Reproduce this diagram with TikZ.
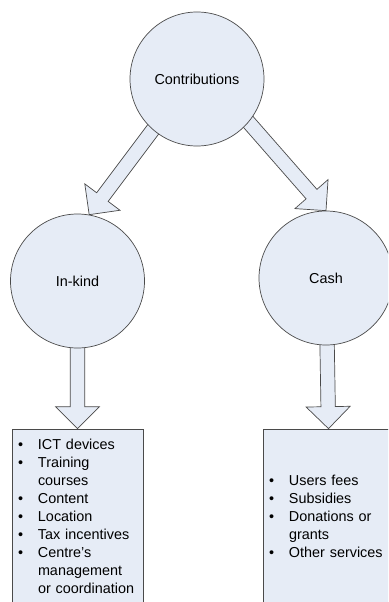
\documentclass[tikz,border=0pt]{standalone}
\usepackage{fontspec}
\setmainfont{Liberation Sans}
\usetikzlibrary{calc}
\definecolor{fillc}{HTML}{E6ECF6}
\definecolor{linec}{HTML}{4A4A4A}
\pgfdeclarelayer{bg}
\pgfsetlayers{bg,main}
\tikzset{
  circ/.style={circle, draw=linec, fill=fillc, line width=0.7pt, minimum size=134pt, inner sep=0pt},
  listbox/.style={rectangle, draw=linec, fill=fillc, line width=0.7pt, minimum width=131pt,
    minimum height=178pt, inner xsep=6pt, inner ysep=0pt, text width=119pt, align=left},
  blockarrowstyle/.style={draw=linec, fill=fillc, line width=0.7pt, line join=miter},
}
\newcommand\blockarrow[2]{%
  \coordinate (ba-s) at #1;
  \coordinate (ba-t) at #2;
  \coordinate (ba-h) at ($(ba-t)!22pt!(ba-s)$);
  \draw[blockarrowstyle]
    ($(ba-s)!7.2pt!90:(ba-t)$) -- ($(ba-h)!7.2pt!90:(ba-t)$) -- ($(ba-h)!22pt!90:(ba-t)$)
    -- (ba-t) -- ($(ba-h)!22pt!-90:(ba-t)$) -- ($(ba-h)!7.2pt!-90:(ba-t)$)
    -- ($(ba-s)!7.2pt!-90:(ba-t)$) -- cycle;
}
\newcommand\blt{\textbullet}
\begin{document}
\begin{tikzpicture}[x=1pt, y=-1pt, font=\fontsize{14.4}{18}\selectfont]
  \clip (0,0) rectangle (388,602);
  \node[circ] (contrib) at (197,79) {Contributions};
  \node[circ] (inkind) at (77.5,281) {In-kind};
  \node[circ] (cash) at (326,278) {Cash};
  \node[listbox] (kindbox) at (77.5,518) {%
    \begin{tabular}{@{}p{20pt}@{}l@{}}
    \blt & ICT devices\\
    \blt & Training\\
         & courses\\
    \blt & Content\\
    \blt & Location\\
    \blt & Tax incentives\\
    \blt & Centre’s\\
         & management\\
         & or coordination
    \end{tabular}};
  \node[listbox] (cashbox) at (328.5,518) {%
    \begin{tabular}{@{}p{20pt}@{}l@{}}
    \blt & Users fees\\
    \blt & Subsidies\\
    \blt & Donations or\\
         & grants\\
    \blt & Other services
    \end{tabular}};
  \begin{pgfonlayer}{bg}
    \fill[white] (0,0) rectangle (388,602);
    \blockarrow{($(inkind.80)!1.08!(contrib.-131)$)}{(inkind.80)}
    \blockarrow{($(cash.north)!1.08!(contrib.-40)$)}{(cash.north)}
    \blockarrow{(inkind.center)}{(kindbox.north)}
    \blockarrow{(cash.center)}{(cashbox.north)}
  \end{pgfonlayer}
\end{tikzpicture}
\end{document}
